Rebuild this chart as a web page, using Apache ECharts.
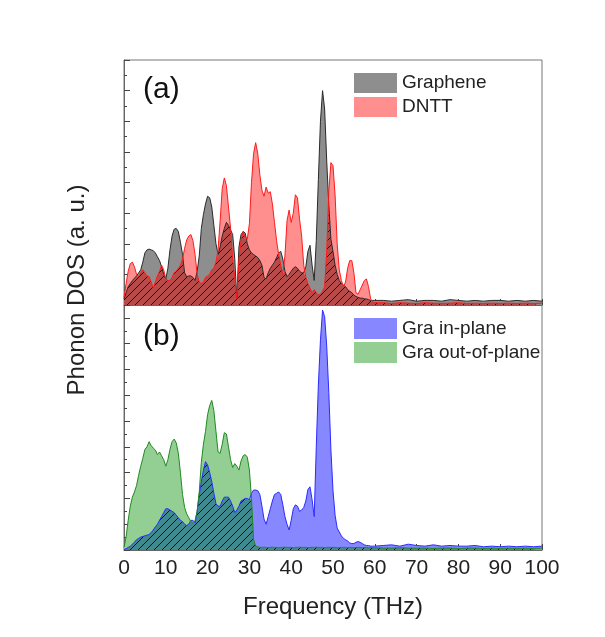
<!DOCTYPE html>
<html><head><meta charset="utf-8">
<script src="https://cdn.jsdelivr.net/npm/echarts@6/dist/echarts.min.js"></script>
<style>html,body{margin:0;padding:0;background:#fff}#c{width:605px;height:637px}</style>
</head><body><div id="c"></div>
<script>
// Frequency grid (THz)
const freq = [
 0,0.5,1,1.5,2,2.5,3,3.5,4,4.5,
 5,5.5,6,6.5,7,7.5,8,8.5,9,9.5,
 10,10.5,11,11.5,12,12.5,13,13.5,14,14.5,
 15,15.5,16,16.5,17,17.5,18,18.5,19,19.5,
 20,20.5,21,21.5,22,22.5,23,23.5,24,24.5,
 25,25.5,26,26.5,27,27.5,28,28.5,29,29.5,
 30,30.5,31,31.5,32,32.5,33,33.5,34,34.5,
 35,35.5,36,36.5,37,37.5,38,38.5,39,39.5,
 40,40.5,41,41.5,42,42.5,43,43.5,44,44.5,
 45,45.5,46,46.5,47,47.5,48,48.5,49,49.5,
 50,50.5,51,51.5,52,52.5,53,53.5,54,54.5,
 55,55.5,56,56.5,57,57.5,58,58.5,59,59.5,
 60,
 62,64,66,68,70,72,74,76,78,80,82,84,86,88,90,92,94,96,98,100
];
// (a) Graphene phonon DOS
const graphene = [
 0.4,0.8,1.2,1.4,1.6,1.75,1.9,2.1,2.3,2.8,
 3.4,3.6,3.65,3.6,3.55,3.4,3.15,2.9,2.5,2.0,
 1.7,2.4,3.6,4.5,4.95,5.0,4.8,4.1,3.3,2.1,
 1.85,1.9,1.9,1.8,1.6,2.2,3.2,5.0,5.9,6.6,
 7.1,7.0,6.4,5.2,4.0,3.3,3.8,4.5,5.0,5.4,
 5.2,4.9,4.6,3.0,0.4,3.8,4.6,4.8,4.7,4.0,
 3.6,3.4,3.3,3.2,3.1,2.9,2.6,1.8,1.7,2.1,
 2.4,2.6,2.8,3.1,3.4,3.5,3.0,2.2,1.85,2.0,
 2.2,2.4,2.5,2.4,2.2,2.1,2.1,2.5,3.5,3.9,
 2.6,1.6,4.2,8.2,12.0,14.0,12.8,9.4,6.5,4.3,
 3.5,2.6,2.0,1.6,1.4,1.3,1.2,1.0,0.9,0.8,
 0.65,0.55,0.5,0.45,0.45,0.4,0.4,0.35,0.3,0.3,
 0.3,
 0.3,0.25,0.3,0.35,0.25,0.3,0.3,0.25,0.35,0.3,0.25,0.3,0.25,0.3,0.3,0.25,0.3,0.25,0.3,0.25
];
// (a) DNTT phonon DOS
const dntt = [
 0.5,1.4,2.2,2.7,2.8,2.5,2.0,1.85,2.1,2.3,
 2.1,1.9,1.85,1.5,1.1,1.5,1.9,2.2,2.6,2.3,
 1.7,1.6,1.6,1.8,2.1,2.2,2.4,2.6,3.0,3.7,
 4.25,4.5,4.6,4.2,3.3,2.0,1.5,1.4,1.5,1.8,
 1.9,2.0,2.3,2.4,2.8,3.6,5.5,7.6,8.3,7.8,
 6.4,5.0,3.0,1.8,0.4,3.0,4.2,4.8,4.4,4.3,
 5.3,8.0,9.9,10.6,9.9,8.5,7.5,7.1,7.7,7.3,
 7.4,6.6,5.4,4.2,3.3,2.6,2.0,3.2,5.5,6.2,
 5.4,6.0,7.2,7.0,5.6,4.5,2.6,1.8,1.4,1.1,
 0.8,1.0,0.8,0.65,0.7,0.9,1.2,3.5,7.4,9.3,
 9.1,7.2,4.0,2.3,1.6,1.2,1.5,2.4,2.9,2.9,
 2.1,0.8,0.7,1.0,1.3,1.6,1.7,1.2,0.4,0.2,
 0.15,
 0.15,0.1,0.15,0.12,0.1,0.15,0.12,0.1,0.12,0.15,0.1,0.12,0.1,0.12,0.1,0.12,0.1,0.12,0.1,0.12
];
// (b) Graphene in-plane
const inPlane = [
 0.05,0.1,0.2,0.3,0.45,0.6,0.8,0.9,1.0,1.05,
 1.1,1.15,1.2,1.35,1.55,1.8,2.0,2.3,2.6,2.9,
 3.2,3.2,3.1,3.0,2.9,2.7,2.5,2.3,2.2,2.0,
 1.9,2.0,2.3,2.3,2.1,3.0,4.3,5.3,6.2,6.85,
 6.6,6.0,5.3,4.4,3.6,3.4,3.4,3.8,4.1,4.1,
 4.1,3.8,3.4,2.9,3.1,3.4,3.8,3.9,4.0,4.0,
 3.9,4.4,4.65,4.65,4.6,4.3,3.4,2.4,2.0,2.6,
 3.2,3.8,4.3,4.4,4.5,4.3,3.5,2.6,2.0,1.55,
 2.3,3.2,3.5,3.4,3.0,3.1,3.3,3.8,4.7,4.9,
 3.9,2.6,8.0,12.8,16.3,18.6,18.1,15.8,12.2,7.75,
 4.6,2.7,1.7,1.4,1.1,0.9,0.8,0.7,0.55,0.5,
 0.5,0.6,0.65,0.6,0.5,0.4,0.35,0.35,0.3,0.3,
 0.3,
 0.35,0.4,0.3,0.45,0.35,0.3,0.4,0.3,0.35,0.3,0.3,0.35,0.25,0.3,0.25,0.3,0.25,0.3,0.25,0.3
];
// (b) Graphene out-of-plane
const outPlane = [
 0.2,1.0,2.3,3.4,4.1,4.5,5.0,5.8,6.5,7.1,
 7.8,8.0,8.4,8.1,7.9,7.75,7.4,7.6,7.3,7.0,
 6.5,7.0,7.8,8.4,8.6,8.3,7.5,6.0,4.3,3.3,
 2.8,2.5,2.2,2.1,2.3,3.0,4.5,6.8,8.2,9.2,
 10.5,11.2,11.6,10.8,9.2,7.6,7.5,8.2,9.1,9.0,
 8.0,7.0,6.4,6.7,6.5,6.2,6.9,7.3,7.4,7.2,
 6.2,4.0,0.8,0.3,0.25,0.2,0.2,0.22,0.2,0.18,
 0.2,0.22,0.2,0.2,0.18,0.2,0.2,0.22,0.2,0.2,
 0.2,0.18,0.2,0.2,0.22,0.2,0.2,0.2,0.18,0.2,
 0.2,0.2,0.22,0.2,0.2,0.2,0.18,0.2,0.2,0.2,
 0.2,0.2,0.18,0.2,0.2,0.2,0.2,0.18,0.2,0.2,
 0.18,0.2,0.2,0.2,0.18,0.2,0.2,0.18,0.2,0.18,
 0.18,
 0.15,0.15,0.18,0.15,0.15,0.15,0.12,0.15,0.15,0.12,0.15,0.15,0.12,0.15,0.12,0.15,0.12,0.15,0.12,0.15
];
const xTicks = [0,10,20,30,40,50,60,70,80,90,100];
const seriesNames = ['Graphene','DNTT','Gra in-plane','Gra out-of-plane'];

const pair = arr => freq.map((f,i)=>[f,arr[i]]);
const overlap = (a,b) => freq.map((f,i)=>[f,Math.min(a[i],b[i])]);

function hatch(bg){
  const s=8, c=document.createElement('canvas');
  c.width=s; c.height=s;
  const ctx=c.getContext('2d');
  ctx.fillStyle=bg; ctx.fillRect(0,0,s,s);
  ctx.strokeStyle='rgba(0,0,0,0.85)'; ctx.lineWidth=1;
  ctx.beginPath();
  ctx.moveTo(0,s); ctx.lineTo(s,0);
  ctx.moveTo(-1,1); ctx.lineTo(1,-1);
  ctx.moveTo(s-1,s+1); ctx.lineTo(s+1,s-1);
  ctx.stroke();
  return {image:c, repeat:'repeat'};
}

const C = {g:'#8e8e8e', d:'#ff8f8f', ovA:'#b94a4a', i:'#8787ff', o:'#93cf93', ovB:'#3f8a8f'};

function xax(idx, labels){
  return {type:'value', gridIndex:idx, min:0, max:100, interval:10,
    axisLine:{show:true, lineStyle:{color:'#666', width:1}},
    axisTick:{show:true, inside:true, length:6, lineStyle:{color:'#444'}},
    minorTick:{show:true, splitNumber:2, length:3, lineStyle:{color:'#444'}},
    splitLine:{show:false},
    axisLabel:{show:labels, fontSize:21, color:'#222', margin:8, fontFamily:'Arial',
      formatter: v => xTicks.indexOf(v)>=0 ? String(v) : ''}};
}
function yax(idx, max){
  return {type:'value', gridIndex:idx, min:0, max:max, interval:2,
    axisLine:{show:true, lineStyle:{color:'#666', width:1}},
    axisTick:{show:true, inside:true, length:6, lineStyle:{color:'#444'}},
    minorTick:{show:true, splitNumber:2, length:3, lineStyle:{color:'#444'}},
    splitLine:{show:false}, axisLabel:{show:false}};
}
function area(name, data, xi, color){
  return {name, type:'line', xAxisIndex:xi, yAxisIndex:xi, data, showSymbol:false, symbol:'none',
    lineStyle:{width:0}, itemStyle:{color: typeof color==='string'?color:'#000'},
    areaStyle:{color, opacity:1}, silent:true};
}
function line(name, data, xi, color){
  return {name, type:'line', xAxisIndex:xi, yAxisIndex:xi, data, showSymbol:false, symbol:'none',
    lineStyle:{width:1, color}, silent:true};
}

const chart = echarts.init(document.getElementById('c'), null, {renderer:'canvas'});
chart.setOption({
  animation:false, backgroundColor:'#fff',
  textStyle:{fontFamily:'Arial'},
  grid:[
    {left:124, top:60, width:418, height:245, show:true, borderColor:'#777', borderWidth:1},
    {left:124, top:305, width:418, height:245, show:true, borderColor:'#777', borderWidth:1}
  ],
  xAxis:[xax(0,false), xax(1,true)],
  yAxis:[yax(0,16), yax(1,19)],
  legend:[
    {orient:'vertical', left:349, top:68, itemWidth:43, itemHeight:20, itemGap:4, icon:'rect',
     selectedMode:false, textStyle:{fontSize:19, color:'#222', fontFamily:'Arial'},
     data:[{name:seriesNames[0], itemStyle:{color:C.g}}, {name:seriesNames[1], itemStyle:{color:C.d}}]},
    {orient:'vertical', left:349, top:313, itemWidth:43, itemHeight:21, itemGap:3, icon:'rect',
     selectedMode:false, textStyle:{fontSize:19, color:'#222', fontFamily:'Arial'},
     data:[{name:seriesNames[2], itemStyle:{color:C.i}}, {name:seriesNames[3], itemStyle:{color:C.o}}]}
  ],
  graphic:[
    {type:'text', left:143, top:75, style:{text:'(a)', fontSize:30, fill:'#111', fontFamily:'Arial'}},
    {type:'text', left:143, top:322, style:{text:'(b)', fontSize:30, fill:'#111', fontFamily:'Arial'}},
    {type:'text', x:333, y:607, style:{text:'Frequency (THz)', fontSize:24, fill:'#222', fontFamily:'Arial', align:'center', verticalAlign:'middle'}},
    {type:'text', x:77, y:290, rotation:Math.PI/2, style:{text:'Phonon DOS (a. u.)', fontSize:24, fill:'#222', fontFamily:'Arial', align:'center', verticalAlign:'middle'}}
  ],
  series:[
    area(seriesNames[0], pair(graphene), 0, C.g),
    area(seriesNames[1], pair(dntt), 0, C.d),
    area('overlapA', overlap(graphene, dntt), 0, hatch(C.ovA)),
    line('GrapheneLine', pair(graphene), 0, '#2a2a2a'),
    line('DNTTLine', pair(dntt), 0, '#ff1a1a'),
    area(seriesNames[2], pair(inPlane), 1, C.i),
    area(seriesNames[3], pair(outPlane), 1, C.o),
    area('overlapB', overlap(inPlane, outPlane), 1, hatch(C.ovB)),
    line('InLine', pair(inPlane), 1, '#2b2bff'),
    line('OutLine', pair(outPlane), 1, '#1f8a1f')
  ]
});
</script></body></html>
